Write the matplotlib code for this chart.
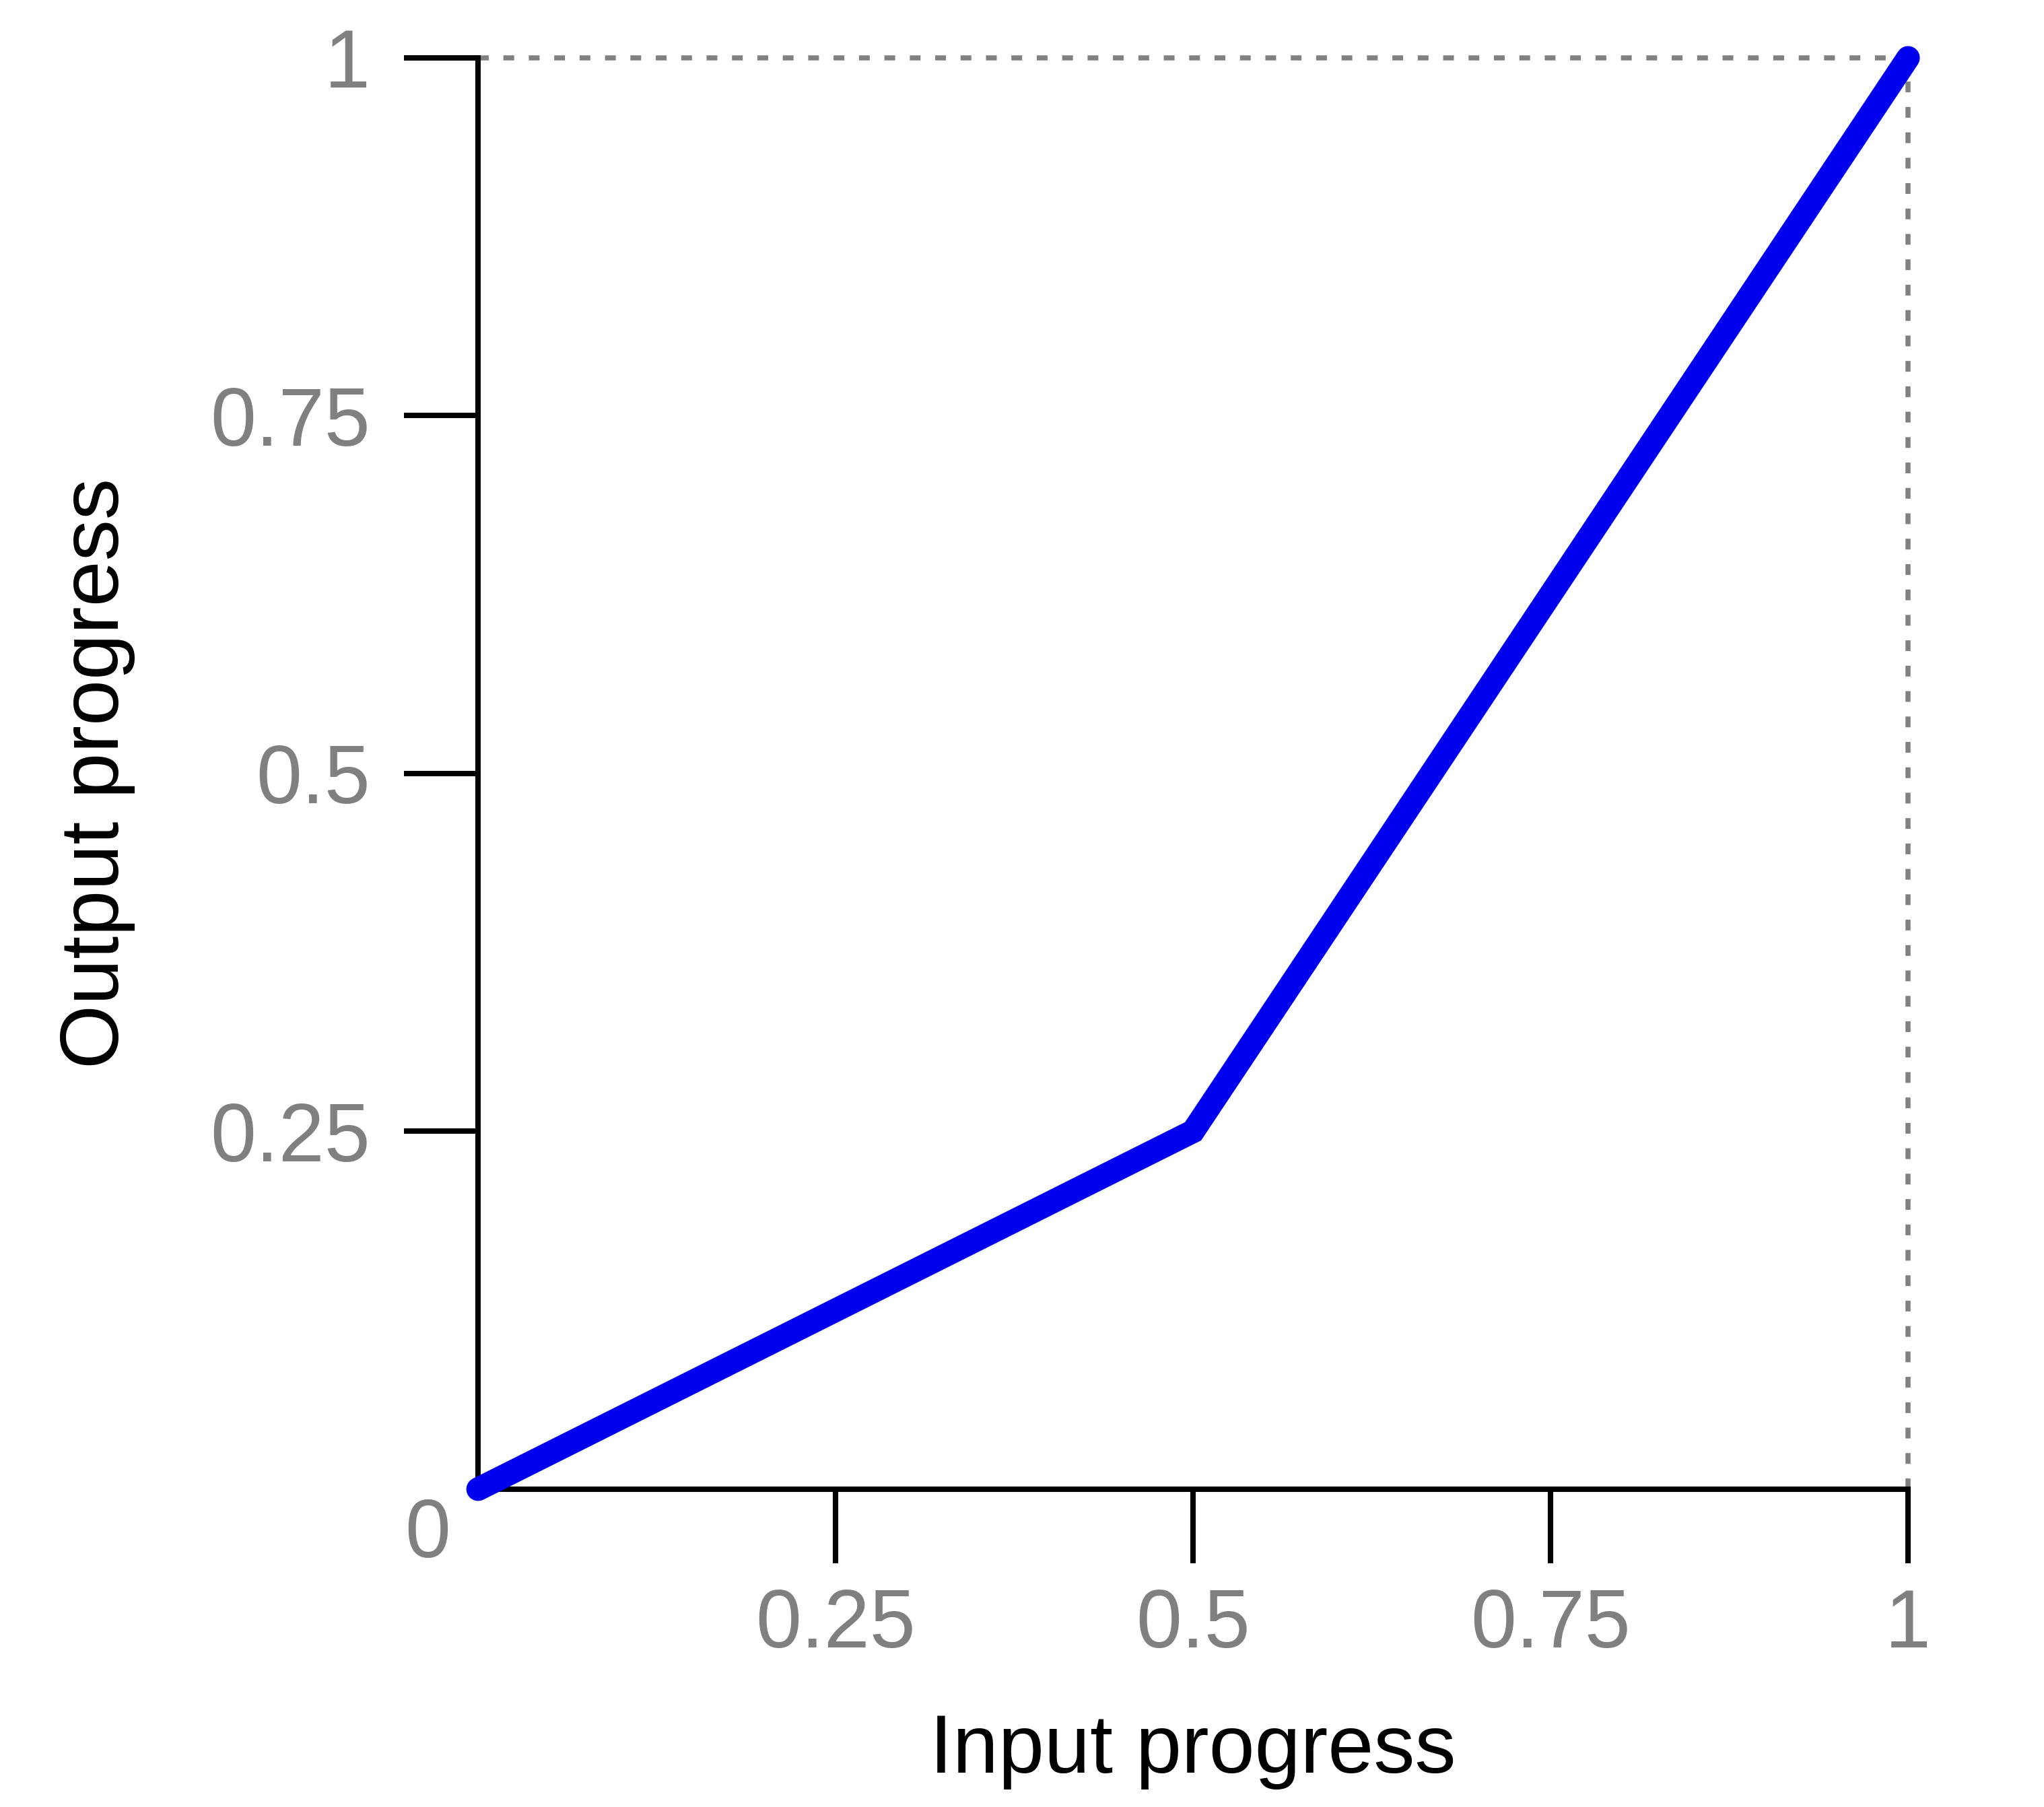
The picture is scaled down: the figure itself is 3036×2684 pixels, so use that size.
import matplotlib
matplotlib.use("Agg")
from matplotlib import pyplot as plt

# datos de la curva (progreso de entrada -> progreso de salida)
x_in = [0, 0.5, 1]
y_out = [0, 0.25, 1]

tick_vals = [0.25, 0.5, 0.75, 1]
tick_text = ["0.25", "0.5", "0.75", "1"]

plt.rcParams['font.family'] = ['Liberation Sans', 'DejaVu Sans']

fig = plt.figure(figsize=(15.18, 13.42), dpi=200)
ax = fig.add_axes([0.2339, 0.1759, 0.6996, 0.7921])

gris = "#808080"
# lineas punteadas de referencia
ax.plot([0, 1], [1, 1], color=gris, lw=2.7, dashes=(2.13, 2.9), zorder=1, clip_on=False)
ax.plot([1, 1], [0, 1], color=gris, lw=2.7, dashes=(2.13, 2.9), zorder=1, clip_on=False)

# curva principal
ax.plot(x_in, y_out, color="#0000ee", lw=12.6, solid_capstyle="round",
        solid_joinstyle="miter", zorder=4, clip_on=False)

ax.set_xlim(0, 1)
ax.set_ylim(0, 1)

for lado in ["top", "right"]:
    ax.spines[lado].set_visible(False)
for lado in ["left", "bottom"]:
    ax.spines[lado].set_linewidth(2.9)

ax.set_xticks(tick_vals)
ax.set_xticklabels(tick_text)
ax.set_yticks(tick_vals)
ax.set_yticklabels(tick_text)
ax.tick_params(axis="both", direction="out", length=39.6, width=2.9,
               labelsize=44, labelcolor=gris)
ax.tick_params(axis="x", pad=13)
ax.tick_params(axis="y", pad=18)

# etiqueta del origen
ax.annotate("0", xy=(0, 0), xytext=(-27, -25), textcoords="offset points",
            ha="center", va="center", fontsize=44, color=gris, annotation_clip=False)

ax.set_xlabel("Input progress", fontsize=44, labelpad=26)
ax.set_ylabel("Output progress", fontsize=44, labelpad=40)

fig.savefig("out.png", dpi=200)
